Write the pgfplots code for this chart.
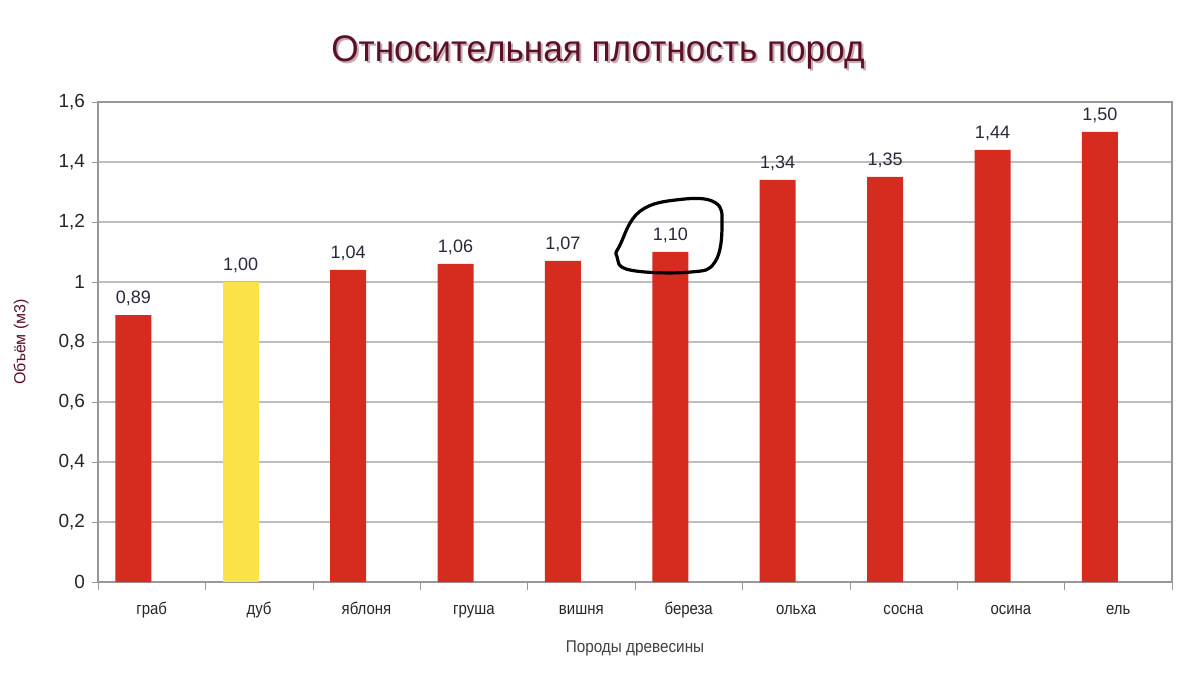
\documentclass[border=0pt]{standalone}
\usepackage{pgfplots}
\pgfplotsset{compat=1.18}
\usepackage{fontspec}
\setmainfont{Liberation Sans}
\definecolor{barred}{RGB}{214,44,32}
\definecolor{baryel}{RGB}{250,226,72}
\definecolor{titlecol}{RGB}{92,16,38}
\definecolor{gridcol}{RGB}{190,190,190}
\definecolor{valcol}{RGB}{40,40,60}
\begin{document}
\begin{tikzpicture}
\begin{axis}[
  scale only axis,
  width=537pt, height=240pt,
  xmin=-0.5, xmax=9.5, ymin=0, ymax=1.6,
  ybar, bar width=18pt, bar shift=-9.2pt,
  xtick={0,...,9},
  xticklabels={граб,дуб,яблоня,груша,вишня,береза,ольха,сосна,осина,ель},
  minor xtick={-0.5,0.5,...,9.5},
  major x tick style={draw=none},
  minor x tick style={gridcol!80!black},
  minor tick length=4pt,
  ytick={0,0.2,...,1.6},
  major tick length=3pt,
  tick align=outside,
  tick pos=left,
  ymajorgrids,
  grid style={gridcol, line width=0.6pt},
  axis line style={gridcol!80!black, line width=0.6pt},
  y tick style={gridcol!80!black},
  /pgf/number format/use comma,
  /pgf/number format/assume math mode=true,
  yticklabel style={font=\fontsize{9.5}{11}\selectfont, text=black!85},
  xticklabel style={font=\fontsize{8.5}{10}\selectfont, text=black!85, anchor=base, yshift=-13pt, xscale=0.88},
  xlabel={Породы древесины},
  xlabel style={font=\fontsize{8.5}{10}\selectfont, text=black!75, yshift=-5pt, xscale=0.9},
  ylabel={Объём (м3)},
  ylabel style={font=\fontsize{8}{10}\selectfont, text=titlecol, yshift=8pt},
  nodes near coords,
  nodes near coords style={font=\fontsize{9}{11}\selectfont, text=valcol,
    /pgf/number format/fixed, /pgf/number format/precision=2,
    /pgf/number format/fixed zerofill, /pgf/number format/use comma,
    yshift=1pt},
]
\addplot[ybar, bar shift=-9.2pt, fill=barred, draw=none] coordinates {
 (0,0.89) (2,1.04) (3,1.06) (4,1.07) (5,1.10) (6,1.34) (7,1.35) (8,1.44) (9,1.50)};
\addplot[ybar, bar shift=-9.2pt, fill=baryel, draw=none] coordinates {(1,1.00)};
\draw[black, line width=1.6pt, line cap=round]
  plot[smooth cycle, tension=0.7] coordinates {
   (axis cs:4.36,1.123) (axis cs:4.547,1.236) (axis cs:4.919,1.275)
   (axis cs:5.245,1.265) (axis cs:5.31,1.19) (axis cs:5.245,1.067)
   (axis cs:5.012,1.033) (axis cs:4.453,1.04) (axis cs:4.332,1.085)};
\end{axis}
\node[text=titlecol!35, font=\fontsize{18.5}{22}\selectfont, xscale=0.95] at (250pt+1pt,265pt-1pt) {Относительная плотность пород};
\node[text=titlecol, font=\fontsize{18.5}{22}\selectfont, xscale=0.95] at (250pt,265pt) {Относительная плотность пород};
\path[use as bounding box] (-49pt,-46.5pt) rectangle (551pt,291pt);
\end{tikzpicture}
\end{document}
